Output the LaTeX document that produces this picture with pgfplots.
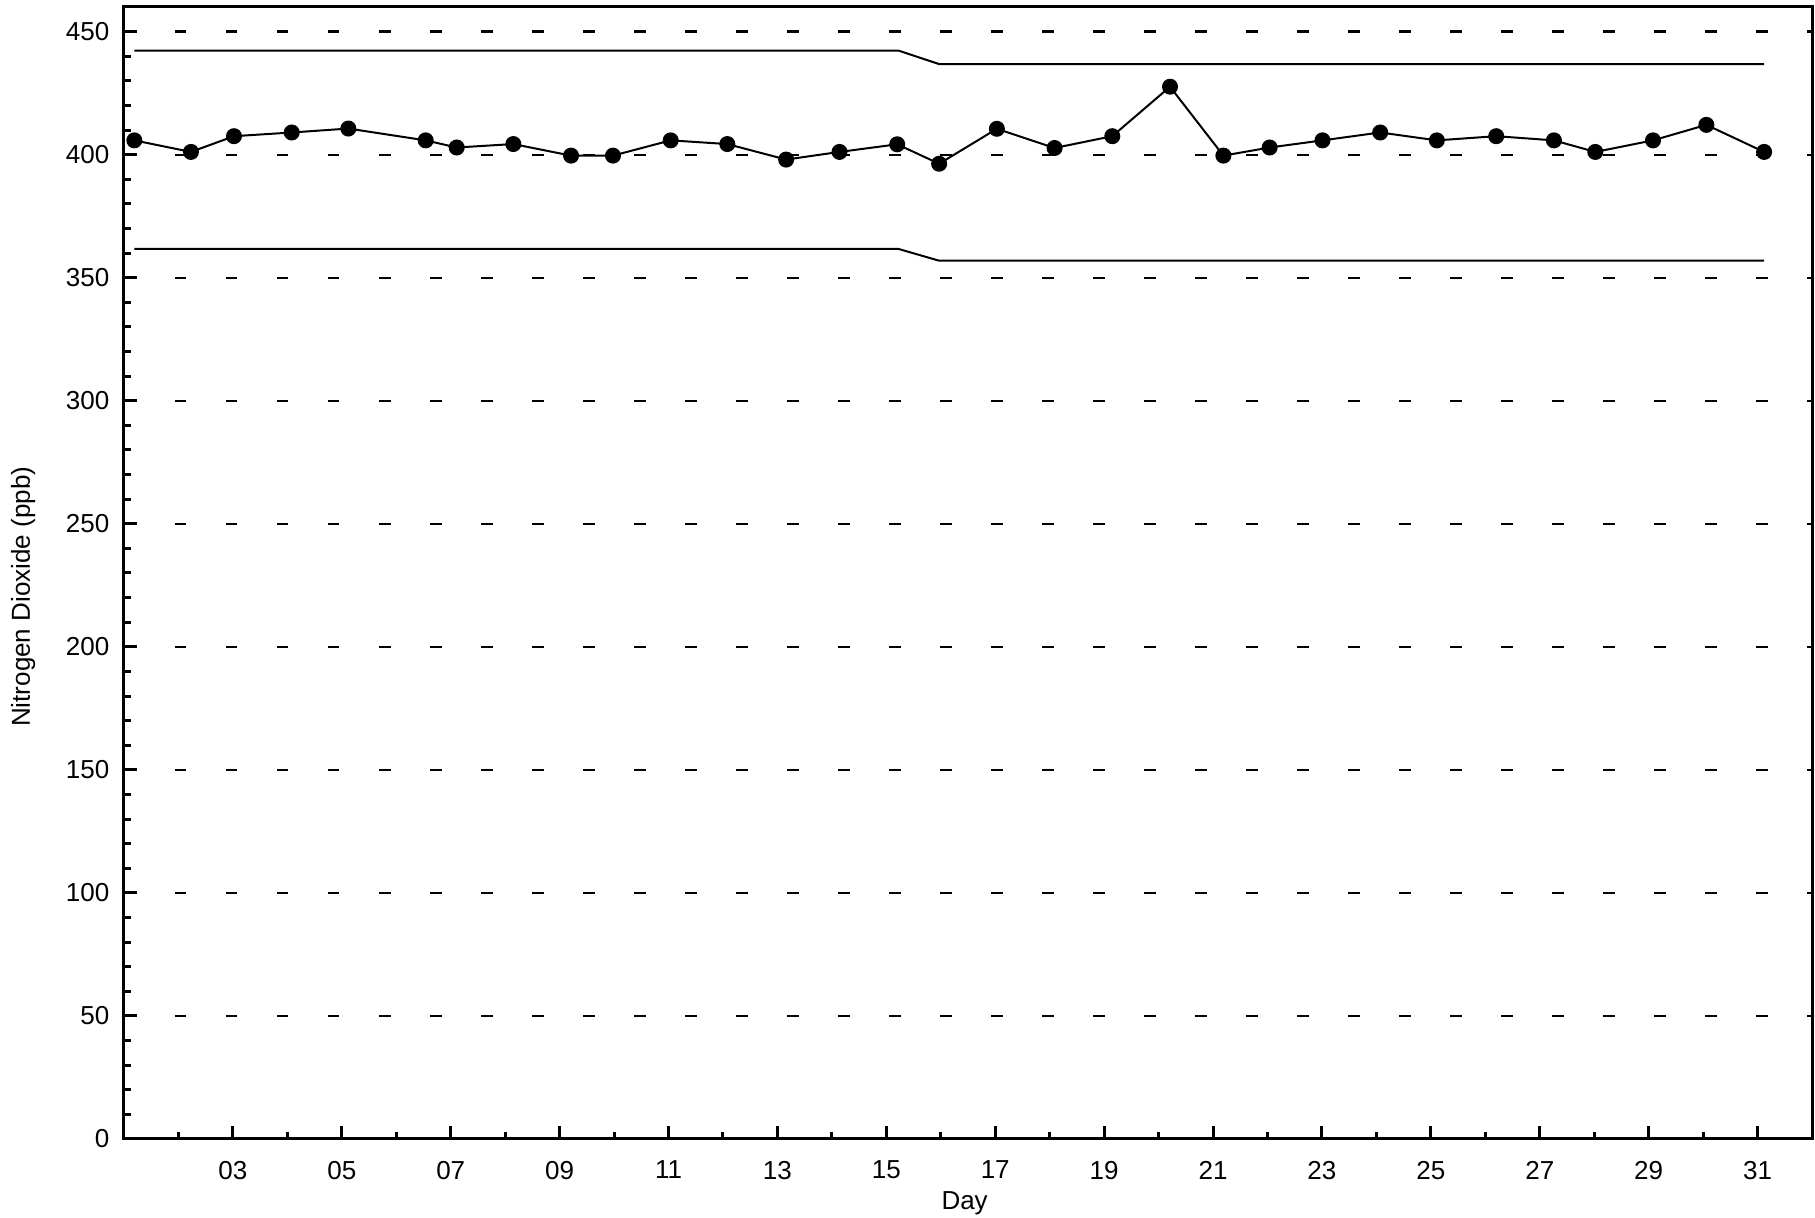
\documentclass[border=0pt]{standalone}
\usepackage{fontspec}
\setmainfont{Liberation Sans}
\usepackage{pgfplots}
\pgfplotsset{compat=1.18}
\usetikzlibrary{calc}
\begin{document}
\fontsize{13pt}{15.6pt}\selectfont
\begin{tikzpicture}
\begin{axis}[
  scale only axis, width=844pt, height=566pt,
  xmin=1, xmax=32, ymin=0, ymax=460,
  axis line style={line width=1.5pt},
  tick align=inside, tick pos=left,
  every tick/.style={black, line width=1.5pt},
  major tick length=6.3pt, minor tick length=3.3pt,
  xtick={3,5,...,31},
  xticklabels={03,05,07,09,11,13,15,17,19,21,23,25,27,29,31},
  minor xtick={2,4,...,30},
  ytick={0,50,...,450},
  minor ytick={10,20,30,40,60,70,80,90,110,120,130,140,160,170,180,190,210,220,230,240,260,270,280,290,310,320,330,340,360,370,380,390,410,420,430,440},
  ymajorgrids,
  major grid style={black, line width=1.1pt, dash pattern=on 5.75pt off 19.75pt},
  /pgf/number format/assume math mode=true,
  yticklabel style={xshift=-2.8pt},
  xticklabel style={yshift=-6.5pt},
  xlabel={Day}, ylabel={Nitrogen Dioxide (ppb)},
  every axis x label/.style={at={(axis description cs:0.498,-0.0565)}, anchor=center},
  every axis y label/.style={at={(axis description cs:-0.0598,0.479)}, rotate=90, anchor=center},
  clip=false,
]
\addplot[black, line width=1pt, mark=*, mark size=3.5pt] coordinates {
(1.19,405.8) (2.23,401.1) (3.02,407.5) (4.08,409.0) (5.12,410.6)
(6.54,405.8) (7.11,402.9) (8.15,404.3) (9.21,399.6) (9.98,399.6)
(11.04,405.8) (12.08,404.3) (13.16,398.0) (14.14,401.1) (15.20,404.2)
(15.97,396.3) (17.03,410.5) (18.09,402.7) (19.15,407.5) (20.21,427.6)
(21.19,399.6) (22.04,402.9) (23.01,405.8) (24.07,409.0) (25.11,405.8)
(26.20,407.5) (27.26,405.8) (28.02,401.1) (29.08,405.8) (30.06,412.1)
(31.12,401.1)
};
\addplot[black, line width=1pt, mark=none] coordinates {
(1.19,442.3) (15.22,442.3) (15.97,436.8) (31.12,436.8)
};
\addplot[black, line width=1pt, mark=none] coordinates {
(1.19,361.7) (15.22,361.7) (15.97,356.9) (31.12,356.9)
};
\end{axis}
\pgfresetboundingbox
\path ($(current axis.south west)+(-62pt,-39.5pt)$) rectangle ($(current axis.north east)+(1.5pt,3.5pt)$);
\end{tikzpicture}
\end{document}
